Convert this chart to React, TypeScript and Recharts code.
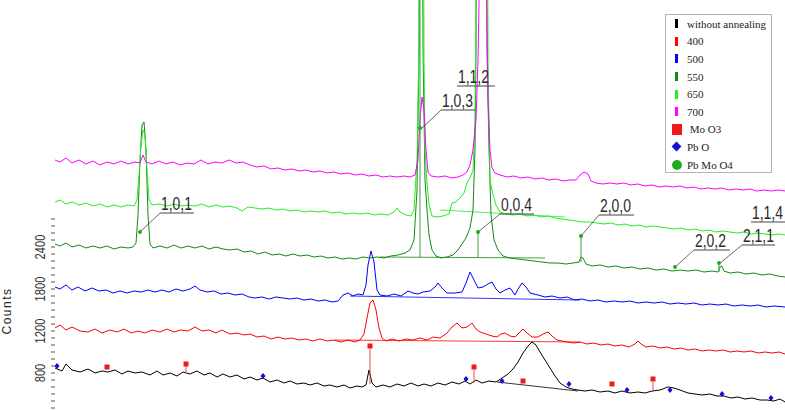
import React from "react";
import {
  ComposedChart,
  Line,
  Scatter,
  XAxis,
  YAxis,
  ReferenceLine,
  ReferenceDot,
} from "recharts";

type Pt = [number, number];

// 2-theta (deg) vs counts, traces stacked with their offsets
const withoutAnnealing: Pt[] = [
  [5.0, 420], [5.7, 390], [6.1, 460], [6.7, 400], [7.5, 380], [8.3, 410], [9.0, 370], [9.7, 390],
  [10.3, 380], [11.0, 400], [11.7, 360], [12.3, 390], [13.0, 370], [13.7, 380], [14.5, 350], [15.2, 390],
  [15.8, 350], [16.5, 370], [17.2, 340], [17.8, 380], [18.5, 360], [19.2, 390], [19.9, 350], [20.5, 370],
  [21.2, 330], [21.8, 360], [22.5, 330], [23.2, 350], [23.9, 310], [24.5, 330], [25.2, 300], [25.8, 320],
  [26.5, 280], [27.2, 300], [27.9, 270], [28.5, 290], [29.2, 260], [29.9, 270], [30.5, 250], [31.2, 270],
  [31.9, 240], [32.5, 250], [33.2, 230], [33.9, 250], [34.5, 220], [35.2, 240], [35.7, 230], [36.1, 250],
  [36.4, 400], [36.7, 270], [37.1, 230], [37.8, 250], [38.5, 230], [39.2, 260], [39.9, 240], [40.6, 270],
  [41.3, 240], [41.9, 260], [42.6, 240], [43.3, 270], [44.0, 250], [44.7, 280], [45.4, 260], [46.0, 290],
  [46.5, 260], [47.1, 300], [47.7, 270], [48.4, 290], [49.1, 280], [49.7, 320], [50.3, 360], [50.8, 410],
  [51.3, 480], [51.8, 570], [52.3, 640], [52.7, 680], [53.1, 650], [53.5, 580], [54.0, 500], [54.5, 420],
  [55.0, 340], [55.5, 270], [56.1, 230], [56.7, 210], [57.3, 200], [58.0, 190], [58.7, 200], [59.5, 180],
  [60.3, 190], [61.0, 170], [61.7, 190], [62.5, 170], [63.3, 180], [64.0, 170], [64.7, 190], [65.5, 200],
  [66.3, 230], [66.9, 220], [67.5, 200], [68.3, 170], [69.0, 160], [69.7, 150], [70.5, 160], [71.2, 140],
  [71.9, 140], [72.6, 120], [73.3, 130], [74.0, 110], [74.7, 120], [75.5, 100], [76.2, 100], [76.9, 90],
  [77.5, 110], [78.0, 80],
];

const annealed400: Pt[] = [
  [5.0, 820], [5.5, 850], [6.1, 800], [6.7, 830], [7.5, 790], [8.3, 780], [9.0, 810], [9.7, 770],
  [10.5, 800], [11.2, 780], [11.9, 810], [12.6, 770], [13.3, 790], [14.0, 770], [14.7, 800], [15.5, 780],
  [16.2, 810], [16.9, 780], [17.6, 800], [18.3, 790], [19.0, 830], [19.7, 790], [20.4, 800], [21.1, 770],
  [21.7, 800], [22.5, 760], [23.2, 770], [23.9, 750], [24.5, 760], [25.2, 730], [25.9, 740], [26.6, 710],
  [27.3, 730], [28.0, 710], [28.7, 720], [29.4, 700], [30.1, 710], [30.8, 690], [31.5, 710], [32.2, 690],
  [32.9, 700], [33.6, 680], [34.3, 700], [35.0, 680], [35.5, 700], [35.9, 760], [36.2, 920], [36.5, 1070],
  [36.8, 1100], [37.1, 1000], [37.4, 820], [37.7, 720], [38.1, 690], [38.7, 710], [39.4, 690], [40.1, 710],
  [40.8, 700], [41.5, 720], [42.2, 700], [42.8, 730], [43.5, 720], [44.2, 770], [44.7, 830], [45.2, 870],
  [45.7, 820], [46.2, 830], [46.7, 870], [47.1, 810], [47.5, 780], [48.1, 760], [48.7, 740], [49.2, 730],
  [49.6, 760], [50.0, 770], [50.5, 740], [51.0, 730], [51.4, 770], [51.8, 810], [52.2, 770], [52.7, 730],
  [53.3, 730], [53.8, 760], [54.3, 780], [54.7, 740], [55.2, 700], [55.7, 690], [56.2, 680], [56.9, 670],
  [57.5, 680], [58.2, 660], [58.9, 670], [59.6, 650], [60.3, 660], [61.0, 640], [61.7, 650], [62.4, 630],
  [63.0, 660], [63.3, 690], [63.6, 660], [64.1, 630], [64.8, 640], [65.5, 620], [66.2, 630], [66.9, 610],
  [67.6, 620], [68.3, 600], [69.0, 610], [69.7, 590], [70.4, 600], [71.1, 590], [71.8, 600], [72.5, 580],
  [73.2, 590], [73.9, 580], [74.6, 590], [75.3, 570], [76.0, 580], [76.7, 570], [77.4, 580], [78.0, 560],
];

const annealed500: Pt[] = [
  [5.0, 1230], [5.5, 1210], [6.1, 1250], [6.7, 1200], [7.3, 1230], [8.0, 1190], [8.7, 1220], [9.4, 1190],
  [10.1, 1200], [10.8, 1170], [11.5, 1190], [12.2, 1170], [12.9, 1190], [13.6, 1180], [14.3, 1200], [15.0, 1180],
  [15.7, 1200], [16.4, 1180], [17.1, 1210], [17.8, 1190], [18.5, 1210], [19.0, 1240], [19.5, 1200], [20.2, 1180],
  [20.9, 1190], [21.6, 1160], [22.3, 1170], [23.0, 1150], [23.7, 1160], [24.4, 1130], [25.0, 1120], [25.7, 1130],
  [26.4, 1110], [27.1, 1130], [27.8, 1120], [28.5, 1110], [29.2, 1120], [29.9, 1100], [30.6, 1110], [31.3, 1090],
  [32.0, 1100], [32.7, 1080], [33.3, 1090], [33.8, 1150], [34.3, 1170], [34.8, 1140], [35.3, 1160], [35.8, 1150],
  [36.1, 1250], [36.3, 1450], [36.6, 1590], [36.9, 1480], [37.2, 1200], [37.5, 1150], [38.2, 1140], [38.9, 1160],
  [39.6, 1140], [40.3, 1190], [40.8, 1170], [41.3, 1160], [41.8, 1180], [42.5, 1190], [43.0, 1230], [43.3, 1270],
  [43.7, 1220], [44.2, 1170], [45.0, 1170], [45.7, 1180], [46.1, 1270], [46.5, 1380], [46.9, 1300], [47.3, 1220],
  [47.8, 1230], [48.3, 1260], [48.7, 1280], [49.1, 1210], [49.5, 1170], [50.0, 1200], [50.5, 1220], [51.0, 1150],
  [51.3, 1210], [51.7, 1270], [52.1, 1230], [52.5, 1170], [53.3, 1150], [54.0, 1130], [54.7, 1140], [55.5, 1120],
  [56.2, 1130], [57.0, 1100], [57.7, 1110], [58.5, 1090], [59.3, 1100], [60.1, 1080], [60.9, 1090], [61.7, 1080],
  [62.5, 1090], [63.3, 1070], [64.1, 1080], [64.9, 1070], [65.7, 1080], [66.5, 1060], [67.3, 1070], [68.1, 1060],
  [68.9, 1070], [69.7, 1050], [70.5, 1060], [71.3, 1050], [72.1, 1060], [72.9, 1040], [73.7, 1050], [74.5, 1040],
  [75.3, 1050], [76.1, 1030], [76.9, 1040], [78.0, 1030],
];

const annealed550: Pt[] = [
  [5.0, 1660], [5.5, 1640], [6.1, 1670], [6.7, 1630], [7.4, 1650], [8.1, 1620], [8.8, 1640], [9.5, 1620],
  [10.2, 1640], [10.9, 1610], [11.6, 1630], [12.3, 1620], [12.8, 1630], [13.1, 1670], [13.3, 1950], [13.5, 2500],
  [13.7, 2850], [13.9, 2880], [14.1, 2600], [14.3, 1950], [14.5, 1660], [14.8, 1620], [15.5, 1640], [16.2, 1620],
  [16.9, 1650], [17.6, 1620], [18.3, 1640], [19.0, 1620], [19.7, 1640], [20.4, 1610], [21.1, 1630], [21.8, 1610],
  [22.5, 1600], [23.2, 1610], [23.9, 1580], [24.6, 1590], [25.3, 1560], [26.0, 1580], [26.7, 1550], [27.4, 1560],
  [28.1, 1540], [28.8, 1560], [29.5, 1540], [30.2, 1550], [30.9, 1530], [31.6, 1540], [32.3, 1520], [33.0, 1530],
  [33.7, 1510], [34.4, 1520], [35.1, 1510], [35.8, 1530], [36.5, 1520], [37.2, 1530], [37.9, 1520], [38.6, 1540],
  [39.3, 1550], [40.0, 1570], [40.5, 1600], [40.9, 1700], [41.2, 2200], [41.4, 3600], [41.5, 7100], [41.7, 7100],
  [41.8, 3600], [42.0, 2300], [42.2, 2000], [42.4, 1750], [42.7, 1600], [43.1, 1540], [43.6, 1520], [44.2, 1530],
  [44.8, 1550], [45.3, 1600], [45.7, 1660], [46.1, 1720], [46.5, 1820], [46.8, 2000], [47.0, 2600], [47.1, 3600],
  [47.2, 7100], [48.1, 7100], [48.2, 3600], [48.4, 2600], [48.6, 1950], [48.9, 1700], [49.3, 1600], [49.8, 1540],
  [50.5, 1520], [51.3, 1510], [52.1, 1500], [52.9, 1490], [53.7, 1480], [54.5, 1470], [55.3, 1470], [56.1, 1460],
  [56.8, 1470], [57.4, 1480], [57.6, 1530], [57.8, 1520], [58.1, 1460], [58.7, 1440], [59.5, 1450], [60.3, 1430],
  [61.1, 1440], [61.9, 1420], [62.7, 1430], [63.5, 1410], [64.3, 1420], [65.1, 1400], [65.9, 1410], [66.7, 1390],
  [67.5, 1400], [68.3, 1390], [69.1, 1400], [69.9, 1380], [70.7, 1390], [71.3, 1380], [71.5, 1430], [71.7, 1440],
  [71.9, 1390], [72.5, 1370], [73.3, 1380], [74.1, 1360], [74.9, 1370], [75.7, 1350], [76.5, 1360], [77.3, 1340],
  [78.0, 1330],
];

const annealed650: Pt[] = [
  [5.0, 2080], [5.5, 2100], [6.1, 2060], [6.7, 2080], [7.4, 2050], [8.1, 2070], [8.8, 2040], [9.5, 2060],
  [10.2, 2030], [10.9, 2050], [11.6, 2030], [12.3, 2050], [12.9, 2040], [13.2, 2100], [13.4, 2350], [13.6, 2650],
  [13.8, 2800], [14.0, 2750], [14.2, 2400], [14.4, 2100], [14.7, 2050], [15.5, 2060], [16.2, 2040], [16.9, 2060],
  [17.6, 2040], [18.3, 2050], [19.0, 2040], [19.7, 2060], [20.4, 2030], [21.1, 2050], [21.8, 2030], [22.5, 2040],
  [23.2, 2020], [23.7, 1990], [24.3, 2030], [25.0, 2020], [25.7, 2010], [26.4, 2020], [27.1, 2000], [27.8, 2010],
  [28.5, 1990], [29.2, 2000], [29.9, 1980], [30.6, 1990], [31.3, 1980], [32.0, 1990], [32.7, 1970], [33.4, 1980],
  [34.1, 1960], [34.8, 1970], [35.5, 1960], [36.2, 1970], [36.9, 1950], [37.6, 1960], [38.3, 1950], [38.9, 1980],
  [39.2, 2020], [39.5, 1980], [40.1, 1950], [40.6, 1940], [40.9, 2000], [41.2, 2500], [41.4, 3700], [41.5, 7100],
  [41.8, 7100], [41.9, 3500], [42.0, 2600], [42.2, 2270], [42.4, 2050], [42.7, 1940], [43.2, 1930], [43.8, 1940],
  [44.4, 1960], [44.7, 2070], [45.1, 2080], [45.5, 2120], [45.9, 2170], [46.2, 2270], [46.5, 2320], [46.8, 2400],
  [47.0, 2900], [47.1, 4100], [47.2, 7100], [48.2, 7100], [48.3, 3500], [48.5, 2300], [48.8, 2150], [49.1, 2050],
  [49.5, 1980], [50.1, 1960], [50.8, 1950], [51.5, 1960], [52.2, 1940], [52.9, 1950], [53.6, 1930], [54.3, 1940],
  [55.0, 1920], [55.7, 1910], [56.4, 1900], [57.1, 1890], [57.8, 1880], [58.5, 1880], [59.2, 1870], [59.9, 1860],
  [60.6, 1870], [61.3, 1850], [62.0, 1860], [62.7, 1840], [63.4, 1850], [64.1, 1830], [64.8, 1840], [65.5, 1830],
  [66.2, 1820], [66.9, 1810], [67.6, 1820], [68.3, 1800], [69.0, 1810], [69.7, 1790], [70.4, 1800], [71.1, 1780],
  [71.8, 1790], [72.5, 1780], [73.2, 1770], [73.9, 1780], [74.6, 1760], [75.3, 1770], [76.0, 1760], [76.7, 1750],
  [77.4, 1760], [78.0, 1750],
];

const annealed700: Pt[] = [
  [5.0, 2500], [5.5, 2480], [6.1, 2520], [6.7, 2470], [7.4, 2500], [8.1, 2460], [8.8, 2490], [9.5, 2450],
  [10.2, 2480], [10.9, 2460], [11.6, 2490], [12.3, 2460], [13.0, 2480], [13.5, 2470], [13.8, 2550], [14.1, 2480],
  [14.7, 2460], [15.4, 2490], [16.1, 2460], [16.8, 2480], [17.5, 2450], [18.2, 2470], [18.9, 2460], [19.6, 2500],
  [20.3, 2460], [21.0, 2480], [21.7, 2470], [22.4, 2500], [23.1, 2470], [23.8, 2480], [24.5, 2450], [25.2, 2430],
  [25.9, 2440], [26.6, 2410], [27.3, 2420], [28.0, 2400], [28.7, 2410], [29.4, 2390], [30.1, 2400], [30.8, 2380],
  [31.5, 2390], [32.2, 2370], [32.9, 2380], [33.6, 2360], [34.3, 2370], [35.0, 2350], [35.7, 2360], [36.4, 2340],
  [37.1, 2350], [37.8, 2330], [38.5, 2340], [39.2, 2330], [39.9, 2340], [40.5, 2330], [41.0, 2350], [41.3, 2500],
  [41.5, 2900], [41.7, 3130], [41.9, 3000], [42.1, 2600], [42.3, 2380], [42.6, 2340], [43.3, 2330], [44.0, 2340],
  [44.7, 2320], [45.3, 2330], [45.8, 2350], [46.2, 2380], [46.5, 2450], [46.8, 2600], [47.1, 2900], [47.3, 3500],
  [47.5, 4600], [47.7, 7100], [48.0, 7100], [48.1, 4600], [48.3, 3100], [48.5, 2600], [48.7, 2420], [49.0, 2370],
  [49.5, 2350], [50.2, 2330], [50.9, 2340], [51.6, 2320], [52.3, 2330], [53.0, 2310], [53.7, 2320], [54.4, 2300],
  [55.1, 2310], [55.8, 2290], [56.5, 2300], [57.1, 2300], [57.5, 2350], [57.9, 2380], [58.3, 2360], [58.6, 2290],
  [59.1, 2270], [59.8, 2260], [60.5, 2270], [61.2, 2260], [61.9, 2270], [62.6, 2250], [63.3, 2260], [64.0, 2240],
  [64.7, 2250], [65.4, 2230], [66.1, 2240], [66.8, 2230], [67.5, 2240], [68.2, 2220], [68.9, 2230], [69.6, 2210],
  [70.3, 2220], [71.0, 2210], [71.7, 2220], [72.4, 2200], [73.1, 2210], [73.8, 2200], [74.5, 2210], [75.2, 2190],
  [75.9, 2200], [76.6, 2190], [77.3, 2200], [78.0, 2190],
];

// fitted backgrounds drawn under the peak groups
const backgroundBlack: Pt[] = [[49.2, 280], [57.3, 190]];
const background400: Pt[] = [[33.0, 700], [57.5, 680]];
const background500: Pt[] = [[34.5, 1140], [57.5, 1100]];
const background550: Pt[] = [[37.5, 1530], [54.0, 1520]];
const background650: Pt[] = [[43.5, 2000], [56.0, 1930]];

// phase markers
const moO3Peaks: Pt[] = [[10.2, 430], [18.1, 460], [36.5, 640], [46.9, 430], [51.8, 290], [60.7, 260], [64.8, 310]];
const pbOPeaks: Pt[] = [[5.2, 440], [25.8, 340], [46.1, 310], [49.7, 290], [56.4, 260], [62.2, 200], [66.5, 200], [71.7, 160], [76.6, 120]];
const pbMoO4Peaks: Pt[] = [[13.5, 1780], [41.5, 2820], [47.3, 1780], [57.6, 1740], [67.0, 1430], [71.4, 1470]];

// [x, top, bottom]
const moO3Sticks: [number, number, number][] = [[18.1, 440, 360], [36.5, 610, 260], [46.9, 400, 270], [64.8, 280, 180]];
const pbMoO4Sticks: [number, number, number][] = [[47.3, 1780, 1530], [57.6, 1740, 1480], [71.4, 1470, 1380], [41.5, 4200, 1530]];

const hklLabels = [
  { text: "1,0,1", peak: [13.5, 1780], x0: 15.5, x1: 18.9, y: 1970 },
  { text: "1,0,3", peak: [41.5, 2800], x0: 43.6, x1: 47.0, y: 3000 },
  { text: "1,1,2", peak: null, x0: 45.2, x1: 49.0, y: 3240 },
  { text: "0,0,4", peak: [47.3, 1780], x0: 49.5, x1: 52.9, y: 1960 },
  { text: "2,0,0", peak: [57.6, 1740], x0: 59.4, x1: 62.9, y: 1950 },
  { text: "2,0,2", peak: [67.0, 1430], x0: 68.9, x1: 72.5, y: 1600 },
  { text: "2,1,1", peak: [71.4, 1460], x0: 73.7, x1: 77.0, y: 1650 },
  { text: "1,1,4", peak: null, x0: 74.6, x1: 78.0, y: 1880 },
];

const yTicks = [
  20, 90, 160, 230, 300, 370, 440, 510, 580, 650, 720, 790, 860, 930,
  1000, 1070, 1140, 1210, 1280, 1350, 1420, 1490, 1560, 1630, 1700, 1770, 1840, 1910,
];
const yTickLabels: Record<number, string> = { 370: "800", 790: "1200", 1210: "1800", 1630: "2400" };

const series = [
  { name: "without annealing", color: "#000000", data: withoutAnnealing },
  { name: "400", color: "#ff0000", data: annealed400 },
  { name: "500", color: "#0000ff", data: annealed500 },
  { name: "550", color: "#138a13", data: annealed550 },
  { name: "650", color: "#22ee22", data: annealed650 },
  { name: "700", color: "#ff00ff", data: annealed700 },
];

const backgrounds = [
  { color: "#000000", data: backgroundBlack },
  { color: "#ff0000", data: background400 },
  { color: "#0000ff", data: background500 },
  { color: "#138a13", data: background550 },
  { color: "#22ee22", data: background650 },
];

const toRows = (pts: Pt[]) => pts.map(([x, y]) => ({ x, y }));

const MARKER_RED = "#f01818";
const MARKER_BLUE = "#1010d0";
const MARKER_GREEN = "#22aa22";

function CountTick(props: any) {
  const { x, y, payload } = props;
  const label = yTickLabels[payload.value];
  return (
    <g>
      <line x1={x - 4} x2={x} y1={y} y2={y} stroke="#555" strokeWidth={1} />
      {label && (
        <text
          transform={`translate(${x - 10},${y}) rotate(-90)`}
          textAnchor="middle"
          fontFamily="Liberation Sans, Arial, sans-serif"
          fontSize={14}
          fill="#333"
          textLength={label.length * 6.2}
          lengthAdjust="spacingAndGlyphs"
        >
          {label}
        </text>
      )}
    </g>
  );
}

const square = (p: any) => <rect x={p.cx - 2.5} y={p.cy - 2.5} width={5} height={5} fill={MARKER_RED} />;
const diamond = (p: any) => (
  <path d={`M${p.cx},${p.cy - 3}L${p.cx + 2.5},${p.cy}L${p.cx},${p.cy + 3}L${p.cx - 2.5},${p.cy}Z`} fill={MARKER_BLUE} />
);
const dot = (p: any) => <circle cx={p.cx} cy={p.cy} r={2} fill={MARKER_GREEN} />;

function LegendBox() {
  const rows: { label: string; icon: React.ReactNode }[] = [
    ...series.map((s) => ({
      label: s.name,
      icon: <div style={{ width: 3, height: 9, background: s.color }} />,
    })),
    { label: "\u00a0Mo O3", icon: <div style={{ width: 10, height: 11, background: MARKER_RED }} /> },
    {
      label: "Pb O",
      icon: <div style={{ width: 7, height: 7, background: MARKER_BLUE, transform: "rotate(45deg)" }} />,
    },
    { label: "Pb Mo O4", icon: <div style={{ width: 10, height: 10, borderRadius: 5, background: MARKER_GREEN }} /> },
  ];
  return (
    <div
      style={{
        position: "absolute",
        left: 665,
        top: 14,
        width: 107,
        height: 159,
        border: "1px solid #b4b4b4",
        background: "#fff",
        fontFamily: "Liberation Serif, Times New Roman, serif",
        fontSize: 11,
        color: "#222",
        boxSizing: "border-box",
      }}
    >
      {rows.map((r) => (
        <div key={r.label} style={{ display: "flex", alignItems: "center", height: 17.6 }}>
          <div style={{ width: 21, display: "flex", justifyContent: "center" }}>{r.icon}</div>
          <span style={{ whiteSpace: "nowrap" }}>{r.label}</span>
        </div>
      ))}
    </div>
  );
}

export default function App() {
  return (
    <div style={{ position: "absolute", left: 0, top: 0, width: 785, height: 410, background: "#fff" }}>
      <ComposedChart width={785} height={410} margin={{ top: 0, right: 0, bottom: 0, left: 0 }}>
        <XAxis type="number" dataKey="x" domain={[5, 78]} allowDataOverflow hide />
        <YAxis
          type="number"
          domain={[0, 4100]}
          allowDataOverflow
          width={55}
          ticks={yTicks}
          interval={0}
          axisLine={false}
          tickLine={false}
          tickSize={0}
          tickMargin={0}
          tick={<CountTick />}
          label={{
            content: () => (
              <text
                transform="translate(11,311) rotate(-90)"
                textAnchor="middle"
                fontFamily="Liberation Sans, Arial, sans-serif"
                fontSize={12}
                letterSpacing={1.5}
                fill="#222"
              >
                Counts
              </text>
            ),
          }}
        />
        {backgrounds.map((b, i) => (
          <Line
            key={`bg${i}`}
            data={toRows(b.data)}
            dataKey="y"
            type="linear"
            stroke={b.color}
            strokeWidth={0.8}
            dot={false}
            isAnimationActive={false}
          />
        ))}
        {series.map((s) => (
          <Line
            key={s.name}
            data={toRows(s.data)}
            dataKey="y"
            type="linear"
            stroke={s.color}
            strokeWidth={1}
            dot={false}
            isAnimationActive={false}
          />
        ))}
        {moO3Sticks.map(([x, y0, y1], i) => (
          <ReferenceLine key={`ms${i}`} segment={[{ x, y: y0 }, { x, y: y1 }]} stroke="#e05050" strokeWidth={1} />
        ))}
        {pbMoO4Sticks.map(([x, y0, y1], i) => (
          <ReferenceLine key={`gs${i}`} segment={[{ x, y: y0 }, { x, y: y1 }]} stroke="#3c9a3c" strokeWidth={1} ifOverflow="hidden" />
        ))}
        {hklLabels.map((h) => (
          <ReferenceLine
            key={`u${h.text}`}
            segment={[{ x: h.x0, y: h.y }, { x: h.x1, y: h.y }]}
            stroke="#444"
            strokeWidth={1}
            ifOverflow="visible"
          />
        ))}
        {hklLabels
          .filter((h) => h.peak)
          .map((h) => (
            <ReferenceLine
              key={`l${h.text}`}
              segment={[{ x: h.peak![0], y: h.peak![1] }, { x: h.x0, y: h.y }]}
              stroke="#444"
              strokeWidth={0.8}
              ifOverflow="visible"
            />
          ))}
        {hklLabels.map((h) => (
          <ReferenceDot
            key={`t${h.text}`}
            x={h.x0}
            y={h.y}
            r={0}
            ifOverflow="visible"
            shape={(p: any) => (
              <text
                x={p.cx + 1}
                y={p.cy - 3}
                fontFamily="Liberation Sans, Arial, sans-serif"
                fontSize={18}
                fill="#2a2a2a"
                textLength={31}
                lengthAdjust="spacingAndGlyphs"
              >
                {h.text}
              </text>
            )}
          />
        ))}
        <Scatter data={toRows(moO3Peaks)} dataKey="y" shape={square} isAnimationActive={false} />
        <Scatter data={toRows(pbOPeaks)} dataKey="y" shape={diamond} isAnimationActive={false} />
        <Scatter data={toRows(pbMoO4Peaks)} dataKey="y" shape={dot} isAnimationActive={false} />
      </ComposedChart>
      <LegendBox />
    </div>
  );
}
